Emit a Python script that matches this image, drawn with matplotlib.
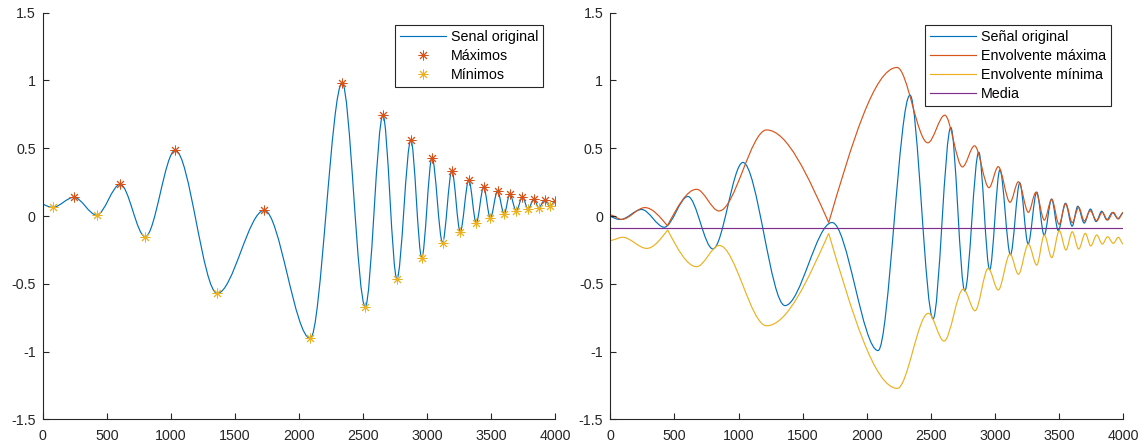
import matplotlib
matplotlib.use("Agg")
import matplotlib.pyplot as plt
from matplotlib.path import Path
from matplotlib.patches import PathPatch
from matplotlib.lines import Line2D

# ---------------- data ----------------
# left panel: original signal (start point, maxima, minima)
inicio_x = [0]
inicio_y = [0.089]
maximos_x = [244, 605, 1034, 1729, 2337, 2655, 2873, 3038, 3193, 3325, 3441,
             3549, 3645, 3744, 3832, 3916, 4000]
maximos_y = [0.138, 0.234, 0.485, 0.042, 0.982, 0.743, 0.561, 0.430, 0.334,
             0.266, 0.215, 0.184, 0.162, 0.141, 0.125, 0.116, 0.112]
minimos_x = [78, 421, 800, 1362, 2088, 2517, 2764, 2958, 3120, 3258, 3383,
             3493, 3601, 3695, 3788, 3871, 3958]
minimos_y = [0.064, 0.007, -0.153, -0.571, -0.903, -0.669, -0.463, -0.307,
             -0.196, -0.116, -0.052, -0.017, 0.015, 0.038, 0.049, 0.062, 0.071]

# right panel
desplazamiento = -0.09          # right-panel signal sits 0.09 lower
media = -0.09                   # "Media" horizontal line

env_max_x = [0, 89, 270, 445, 673, 848, 1219, 1703, 2236, 2476, 2608, 2746,
             2840, 2953, 3025, 3117, 3182, 3260, 3319, 3384, 3442, 3499, 3551,
             3602, 3652, 3696, 3741, 3793, 3836, 3878, 3922, 3961, 4000]
env_max_y = [0.007, -0.025, 0.062, -0.072, 0.197, 0.037, 0.635, -0.049, 1.096,
             0.540, 0.744, 0.362, 0.518, 0.209, 0.364, 0.101, 0.253, 0.027,
             0.175, -0.030, 0.123, -0.061, 0.091, -0.049, 0.064, -0.037, 0.039,
             -0.035, 0.027, -0.030, 0.027, -0.022, 0.027]
env_max_picos = [445, 1703]

env_min_x = [0, 96, 284, 447, 673, 850, 1219, 1703, 2238, 2480, 2602, 2753,
             2844, 2947, 3025, 3117, 3182, 3260, 3325, 3384, 3442, 3501, 3553,
             3602, 3652, 3704, 3746, 3793, 3836, 3878, 3922, 3961, 4000]
env_min_y = [-0.180, -0.157, -0.239, -0.103, -0.374, -0.217, -0.810, -0.128,
             -1.272, -0.718, -0.923, -0.539, -0.699, -0.386, -0.546, -0.280,
             -0.430, -0.207, -0.362, -0.140, -0.307, -0.108, -0.251, -0.116,
             -0.244, -0.128, -0.221, -0.140, -0.207, -0.153, -0.202, -0.157,
             -0.207]
env_min_picos = [447, 1703]

x_ticks = [0, 500, 1000, 1500, 2000, 2500, 3000, 3500, 4000]
y_ticks = [-1.5, -1, -0.5, 0, 0.5, 1, 1.5]
y_tick_labels = ["-1.5", "-1", "-0.5", "0", "0.5", "1", "1.5"]

# ---------------- style ----------------
AZUL = "#0072BD"
NARANJA = "#D95319"
AMARILLO = "#EDB120"
MORADO = "#7E2F8E"
GRIS = "#262626"
LW = 0.85

plt.rcParams["font.family"] = ["Liberation Sans", "DejaVu Sans"]
plt.rcParams["axes.unicode_minus"] = False
FS = 10.3
ASTER = (8, 2, 0)


def curva(xs, ys, picos=(), start_steep=False):
    """Smooth Bezier path through the knots (flat tangents at extrema,
    steep tangents at cusp knots)."""
    verts = [(xs[0], ys[0])]
    codes = [Path.MOVETO]
    for i in range(len(xs) - 1):
        x0, y0, x1, y1 = xs[i], ys[i], xs[i + 1], ys[i + 1]
        dx, dy = x1 - x0, y1 - y0
        steep0 = xs[i] in picos or (i == 0 and start_steep)
        steep1 = xs[i + 1] in picos
        c1y = y0 + 0.5 * dy if steep0 else y0
        c2y = y1 - 0.5 * dy if steep1 else y1
        verts += [(x0 + dx / 3, c1y), (x1 - dx / 3, c2y), (x1, y1)]
        codes += [Path.CURVE4] * 3
    return Path(verts, codes)


# signal knots: start + extrema merged in x order
pts = sorted(zip(inicio_x + maximos_x + minimos_x,
                 inicio_y + maximos_y + minimos_y))
senal_x = [p[0] for p in pts]
senal_y = [p[1] for p in pts]
senal2_y = [v + desplazamiento for v in senal_y]

fig = plt.figure(figsize=(11.44, 4.48), dpi=100)
ax1 = fig.add_axes([42.7 / 1144, 28.7 / 448, 512.6 / 1144, 406.6 / 448])
ax2 = fig.add_axes([610.3 / 1144, 28.7 / 448, 513.0 / 1144, 406.6 / 448])

for ax in (ax1, ax2):
    ax.set_xlim(0, 4000)
    ax.set_ylim(-1.5, 1.5)
    ax.set_xticks(x_ticks)
    ax.set_xticklabels([str(t) for t in x_ticks])
    ax.set_yticks(y_ticks)
    ax.set_yticklabels(y_tick_labels)
    for s in ("top", "right"):
        ax.spines[s].set_visible(False)
    for s in ("left", "bottom"):
        ax.spines[s].set_color(GRIS)
        ax.spines[s].set_linewidth(0.8)
    ax.tick_params(direction="in", length=4, width=0.8, color=GRIS,
                   labelcolor=GRIS, labelsize=FS)
    ax.tick_params(axis="y", pad=5)
    ax.tick_params(axis="x", pad=7)

# ---- left panel ----
ax1.add_patch(PathPatch(curva(senal_x, senal_y, start_steep=True),
                        fill=False, edgecolor=AZUL, lw=LW))
ax1.plot(maximos_x, maximos_y, ls="none", marker=ASTER, ms=7, mew=0.7,
         color=NARANJA)
ax1.plot(minimos_x, minimos_y, ls="none", marker=ASTER, ms=7, mew=0.7,
         color=AMARILLO)
h1 = [Line2D([], [], color=AZUL, lw=LW),
      Line2D([], [], ls="none", marker=ASTER, ms=7, mew=0.7, color=NARANJA),
      Line2D([], [], ls="none", marker=ASTER, ms=7, mew=0.7, color=AMARILLO)]
leg1 = ax1.legend(h1, ["Senal original", "Máximos", "Mínimos"],
                  loc="upper right", fontsize=FS, fancybox=False,
                  framealpha=1, edgecolor=GRIS, handlelength=3.2,
                  handletextpad=0.35, labelspacing=0.35, borderpad=0.35,
                  borderaxespad=0.85, numpoints=1)
leg1.get_frame().set_linewidth(0.8)

# ---- right panel ----
ax2.add_patch(PathPatch(curva(senal_x, senal2_y, start_steep=True),
                        fill=False, edgecolor=AZUL, lw=LW))
ax2.add_patch(PathPatch(curva(env_max_x, env_max_y, env_max_picos),
                        fill=False, edgecolor=NARANJA, lw=LW))
ax2.add_patch(PathPatch(curva(env_min_x, env_min_y, env_min_picos),
                        fill=False, edgecolor=AMARILLO, lw=LW))
ax2.plot([0, 4000], [media, media], color=MORADO, lw=LW)
h2 = [Line2D([], [], color=c, lw=LW) for c in (AZUL, NARANJA, AMARILLO, MORADO)]
leg2 = ax2.legend(h2, ["Señal original", "Envolvente máxima",
                       "Envolvente mínima", "Media"],
                  loc="upper right", fontsize=FS, fancybox=False,
                  framealpha=1, edgecolor=GRIS, handlelength=3.2,
                  handletextpad=0.35, labelspacing=0.35, borderpad=0.35,
                  borderaxespad=0.85)
leg2.get_frame().set_linewidth(0.8)

fig.savefig("out.png", dpi=100)
